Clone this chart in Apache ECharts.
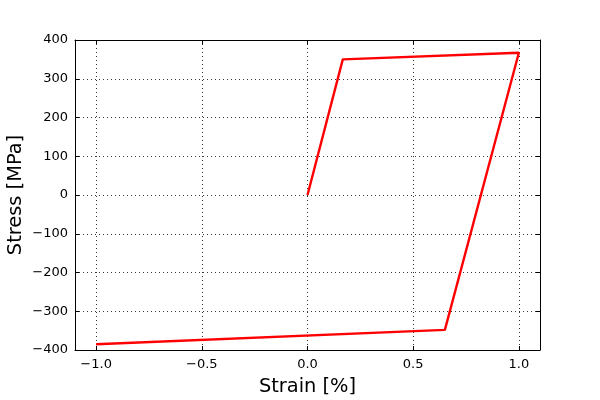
<!DOCTYPE html>
<html><head><meta charset="utf-8">
<script src="https://cdn.jsdelivr.net/npm/echarts@6/dist/echarts.min.js"></script>
<style>html,body{margin:0;padding:0;background:#fff}#c{width:600px;height:400px}</style>
</head><body><div id="c"></div>
<script>
var strain = [0, 0.167, 1.0, 0.65, -1.0];
var stress = [0, 350, 367, -348, -385];
var xTicks = [-1.0, -0.5, 0.0, 0.5, 1.0];
var yTicks = [-400, -300, -200, -100, 0, 100, 200, 300, 400];

var font = 'DejaVu Sans';
function fmtX(v){ return v.toFixed(1).replace('-', '\u2212'); }
function fmtY(v){ return String(v).replace('-', '\u2212'); }
var axisLine = {show:true, onZero:false, lineStyle:{color:'#000', width:1}};
var tick = {show:true, inside:true, length:4, lineStyle:{color:'#000'}};
var grid = {show:true, lineStyle:{color:'#000', type:[1,3], width:0.8}};

var chart = echarts.init(document.getElementById('c'), null, {renderer:'canvas'});
chart.setOption({
  animation:false,
  backgroundColor:'#fff',
  grid:{left:75, right:60, top:40, bottom:50, containLabel:false, outerBoundsMode:'none'},
  xAxis:[{
    type:'value', min:-1.1, max:1.1, position:'bottom',
    name:'Strain [%]', nameLocation:'middle', nameGap:27, nameMoveOverlap:false,
    nameTextStyle:{fontFamily:font, fontSize:19.4, color:'#000'},
    axisLine:axisLine,
    axisTick:Object.assign({customValues:xTicks}, tick),
    axisLabel:{customValues:xTicks, formatter:fmtX, fontFamily:font, fontSize:13, color:'#000', margin:8},
    splitLine:grid
  },{
    type:'value', min:-1.1, max:1.1, position:'top',
    axisLine:axisLine,
    axisTick:Object.assign({customValues:xTicks}, tick),
    axisLabel:{show:false, customValues:xTicks},
    splitLine:{show:false}
  }],
  yAxis:[{
    type:'value', min:-400, max:400, interval:100, position:'left',
    name:'Stress [MPa]', nameLocation:'middle', nameGap:50, nameMoveOverlap:false,
    nameTextStyle:{fontFamily:font, fontSize:19.4, color:'#000'},
    axisLine:axisLine, axisTick:tick,
    axisLabel:{formatter:fmtY, fontFamily:font, fontSize:13, color:'#000', margin:7},
    splitLine:grid
  },{
    type:'value', min:-400, max:400, interval:100, position:'right',
    axisLine:axisLine, axisTick:tick,
    axisLabel:{show:false}, splitLine:{show:false}
  }],
  series:[{
    type:'line', xAxisIndex:0, yAxisIndex:0,
    data: strain.map(function(x,i){ return [x, stress[i]]; }),
    showSymbol:false, symbol:'none',
    lineStyle:{color:'#ff0000', width:2.4},
    itemStyle:{color:'#ff0000'}
  }]
});
</script></body></html>
